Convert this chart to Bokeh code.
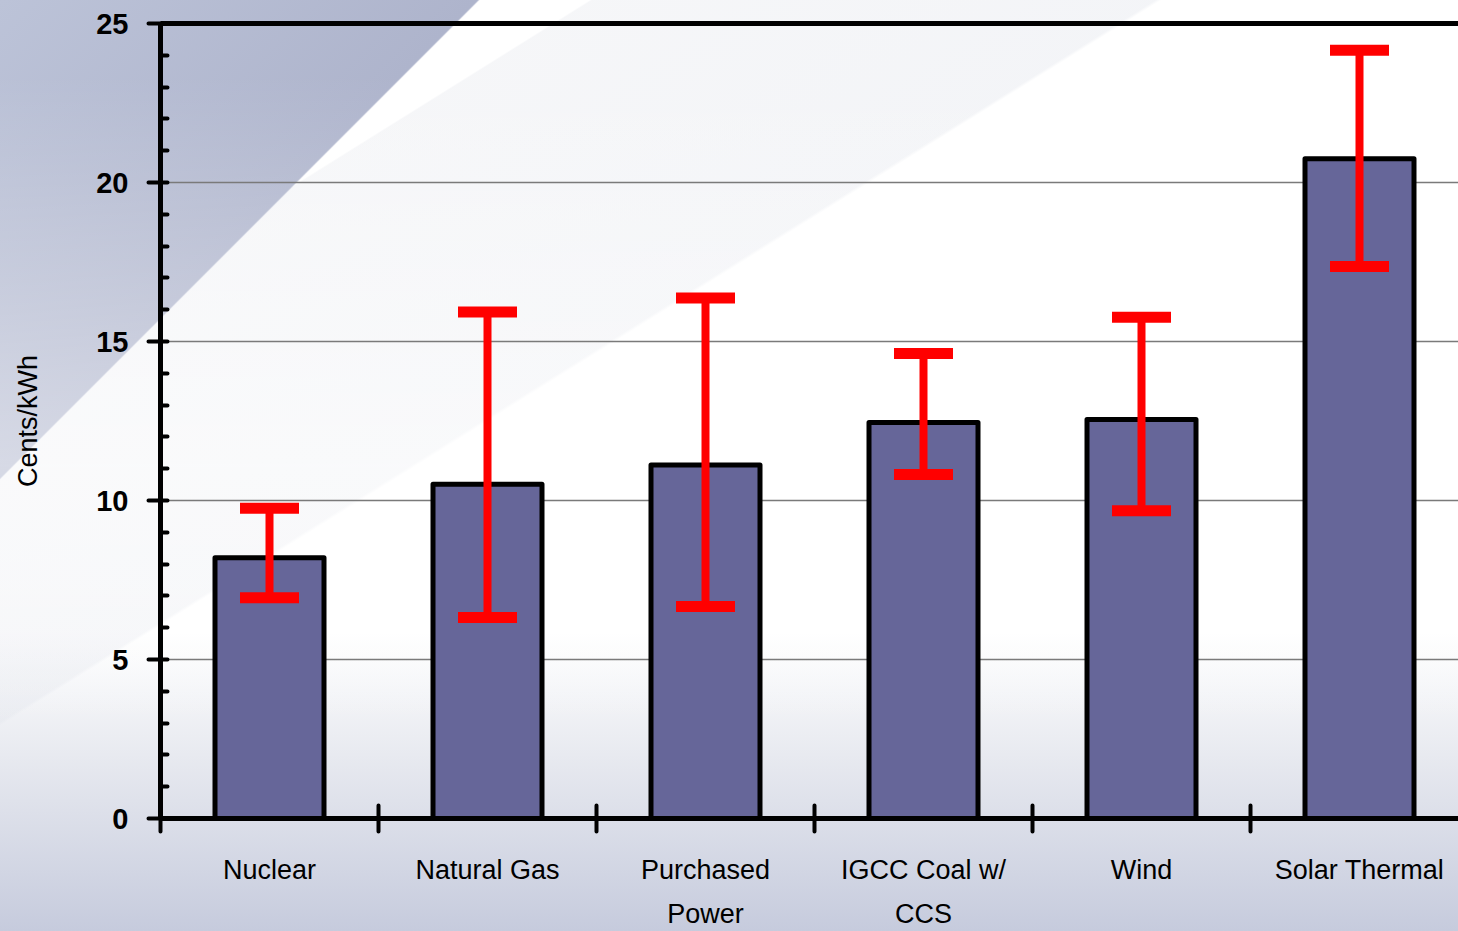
from bokeh.plotting import figure
from bokeh.models import (Range1d, FixedTicker, LinearAxis, Whisker, TeeHead,
                          ColumnDataSource)
from bokeh.embed import file_html
from bokeh.resources import INLINE

# ---- data ----
categories = ["Nuclear", "Natural Gas", "Purchased\nPower", "IGCC Coal w/\nCCS",
              "Wind", "Solar Thermal"]
values = [8.20, 10.51, 11.12, 12.45, 12.55, 20.75]
upper = [9.76, 15.93, 16.37, 14.62, 15.76, 24.16]
lower = [6.94, 6.32, 6.67, 10.82, 9.68, 17.36]
y_ticks = [0, 5, 10, 15, 20, 25]
y_label = "Cents/kWh"

FONT = "Liberation Sans"
n = len(categories)
x_centers = [i + 0.5 for i in range(n)]

W, H = 1458, 931
LEFT, TOP, BOTTOM = 160, 23, 113
slot_px = 218.0
x_end = (W - LEFT) / slot_px

p = figure(width=W, height=H, output_backend="svg", toolbar_location=None,
           x_range=Range1d(0, x_end), y_range=Range1d(0, 25),
           min_border_left=LEFT, min_border_right=0, min_border_top=TOP,
           min_border_bottom=BOTTOM)
p.background_fill_alpha = 0
p.border_fill_alpha = 0
p.outline_line_color = None

p.styles = {
    "background": (
        "linear-gradient(180deg, rgba(255,255,255,0) 0%, rgba(255,255,255,0) 8%, "
        "rgba(255,255,255,0.5) 50%, rgba(255,255,255,0.35) 64%, rgba(255,255,255,0) 78%), "
        "linear-gradient(135deg, #bcc3d8 0%, #aeb4cc 20.0%, rgba(255,255,255,0) 20.1%), "
        "linear-gradient(148deg, rgba(230,232,238,0) 20.0%, rgba(228,230,236,0.35) 20.1%, "
        "rgba(226,229,236,0.4) 39.2%, rgba(255,255,255,0) 39.4%), "
        "linear-gradient(180deg, #ffffff 0%, #ffffff 68%, #e8eaf0 81%, #c6cbdd 100%)"
    )
}

# grid
p.xgrid.visible = False
p.ygrid.ticker = FixedTicker(ticks=[t for t in y_ticks if 0 < t < 25])
p.ygrid.grid_line_color = "#7a7a7a"
p.ygrid.grid_line_width = 1.3

# bars
p.vbar(x=x_centers, top=values, bottom=0, width=0.5, fill_color="#666699",
       line_color="black", line_width=5, line_join="round")

# error bars
src = ColumnDataSource(dict(x=x_centers, upper=upper, lower=lower))
wh = Whisker(base="x", upper="upper", lower="lower", source=src,
             line_color="#ff0000", line_width=8, level="annotation",
             upper_head=TeeHead(size=59, line_color="#ff0000", line_width=11),
             lower_head=TeeHead(size=59, line_color="#ff0000", line_width=11))
p.add_layout(wh)

# y axis
ya = p.yaxis[0]
ya.ticker = FixedTicker(ticks=y_ticks,
                        minor_ticks=[v for v in range(0, 26) if v % 5 != 0])
ya.axis_line_width = 5
ya.axis_line_color = "black"
ya.major_tick_in = 7
ya.major_tick_out = 12
ya.major_tick_line_width = 4
ya.major_tick_line_cap = "round"
ya.minor_tick_in = 7
ya.minor_tick_out = 0
ya.minor_tick_line_width = 4
ya.minor_tick_line_cap = "round"
ya.minor_tick_line_color = "black"
ya.major_label_standoff = 20
ya.major_label_text_font = FONT
ya.major_label_text_font_style = "bold"
ya.major_label_text_font_size = "29px"
ya.major_label_text_color = "black"
ya.axis_label = y_label
ya.axis_label_text_font = FONT
ya.axis_label_text_font_style = "normal"
ya.axis_label_text_font_size = "27px"
ya.axis_label_text_color = "black"
ya.axis_label_standoff = 50

# x axis (first line of each category label)
xa = p.xaxis[0]
xa.ticker = FixedTicker(ticks=x_centers, minor_ticks=list(range(0, n + 1)))
xa.axis_line_width = 5
xa.axis_line_color = "black"
xa.major_tick_in = 0
xa.major_tick_out = 0
xa.major_tick_line_color = None
xa.minor_tick_in = 13
xa.minor_tick_out = 13
xa.minor_tick_line_width = 4
xa.minor_tick_line_cap = "round"
xa.minor_tick_line_color = "black"
xa.major_label_standoff = 23
xa.major_label_text_font = FONT
xa.major_label_text_font_size = "27px"
xa.major_label_text_color = "black"
xa.major_label_overrides = {xc: c.split("\n")[0] for xc, c in zip(x_centers, categories)}

# second line of the wrapped category labels, on a bare axis below
second = {xc: (c.split("\n")[1] if "\n" in c else "") for xc, c in zip(x_centers, categories)}
xa2 = LinearAxis(ticker=FixedTicker(ticks=x_centers),
                 axis_line_color=None, major_tick_line_color=None,
                 minor_tick_line_color=None, major_tick_in=0, major_tick_out=0,
                 major_label_standoff=11,
                 major_label_text_font=FONT, major_label_text_font_size="27px",
                 major_label_text_color="black",
                 major_label_overrides=second)
p.add_layout(xa2, "below")

# top frame line
top_axis = LinearAxis(ticker=FixedTicker(ticks=[]), axis_line_width=5,
                      axis_line_color="black", major_tick_line_color=None,
                      minor_tick_line_color=None, major_label_text_font_size="0px")
p.add_layout(top_axis, "above")

open("out.html", "w").write(file_html(p, INLINE))
